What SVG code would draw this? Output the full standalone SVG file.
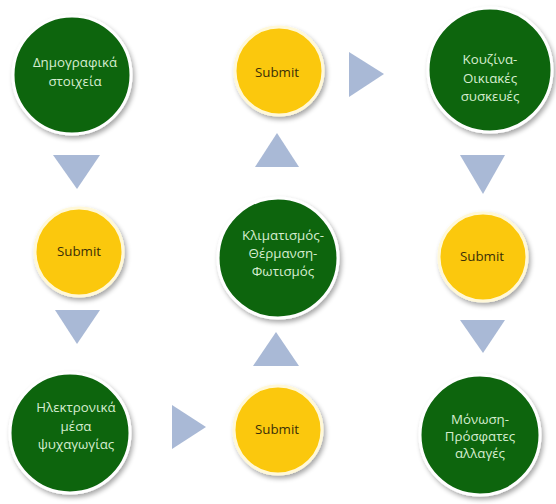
<svg xmlns="http://www.w3.org/2000/svg" width="556" height="504" viewBox="0 0 556 504">
<defs>
<filter id="sh" x="-20%" y="-20%" width="150%" height="150%">
<feGaussianBlur in="SourceAlpha" stdDeviation="2.5"/>
<feOffset dx="2" dy="3" result="b"/>
<feComponentTransfer><feFuncA type="linear" slope="0.35"/></feComponentTransfer>
<feMerge><feMergeNode/><feMergeNode in="SourceGraphic"/></feMerge>
</filter>
</defs>
<style>
.g{fill:#0d6510;stroke:#ffffff;stroke-width:3;filter:url(#sh)}
.y{fill:#fbc80a;stroke:#fff8d8;stroke-width:3;filter:url(#sh)}
.tg{font-family:"Open Sans","DejaVu Sans",sans-serif;font-size:13.3px;fill:#d6edd0;text-anchor:middle}
.ty{font-family:"Open Sans","DejaVu Sans",sans-serif;font-size:13.3px;fill:#3a2e08;text-anchor:middle}
.a{fill:#a9b9d6}
</style>
<rect width="556" height="504" fill="#ffffff"/>
<g id="connectors">
<polygon class="a" points="53,155 100,155 77,189"/>
<polygon class="a" points="55,310 100,310 77,344"/>
<polygon class="a" points="172,405 172,449 206,427"/>
<polygon class="a" points="253,366 299,366 276,332"/>
<polygon class="a" points="255,167 299,167 277,133"/>
<polygon class="a" points="349,52 349,97 384,74"/>
<polygon class="a" points="460,155 505,155 483,194"/>
<polygon class="a" points="460,320 505,320 483,353"/>
</g>
<g id="n1"><circle class="g" cx="72" cy="75" r="59"/>
<text class="tg" x="75" y="67">Δημογραφικά</text><text class="tg" x="75" y="86">στοιχεία</text></g>
<g id="s1"><circle class="y" cx="79" cy="252" r="44"/><text class="ty" x="79" y="256">Submit</text></g>
<g id="n2"><circle class="g" cx="70" cy="433" r="60"/>
<text class="tg" x="76" y="412">Ηλεκτρονικά</text><text class="tg" x="76" y="431">μέσα</text><text class="tg" x="76" y="449">ψυχαγωγίας</text></g>
<g id="s2"><circle class="y" cx="278" cy="430" r="44"/><text class="ty" x="277" y="434">Submit</text></g>
<g id="n3"><circle class="g" cx="278" cy="258" r="60"/>
<text class="tg" x="283" y="240">Κλιματισμός-</text><text class="tg" x="283" y="258">Θέρμανση-</text><text class="tg" x="283" y="276">Φωτισμός</text></g>
<g id="s3"><circle class="y" cx="279" cy="71" r="44"/><text class="ty" x="277" y="77">Submit</text></g>
<g id="n4"><circle class="g" cx="490" cy="70" r="62"/>
<text class="tg" x="490" y="64">Κουζίνα-</text><text class="tg" x="490" y="83">Οικιακές</text><text class="tg" x="490" y="101">συσκευές</text></g>
<g id="s4"><circle class="y" cx="483" cy="257" r="44"/><text class="ty" x="482" y="261">Submit</text></g>
<g id="n5"><circle class="g" cx="480" cy="435" r="60"/>
<text class="tg" x="480" y="424">Μόνωση-</text><text class="tg" x="480" y="441">Πρόσφατες</text><text class="tg" x="480" y="458">αλλαγές</text></g>
</svg>
